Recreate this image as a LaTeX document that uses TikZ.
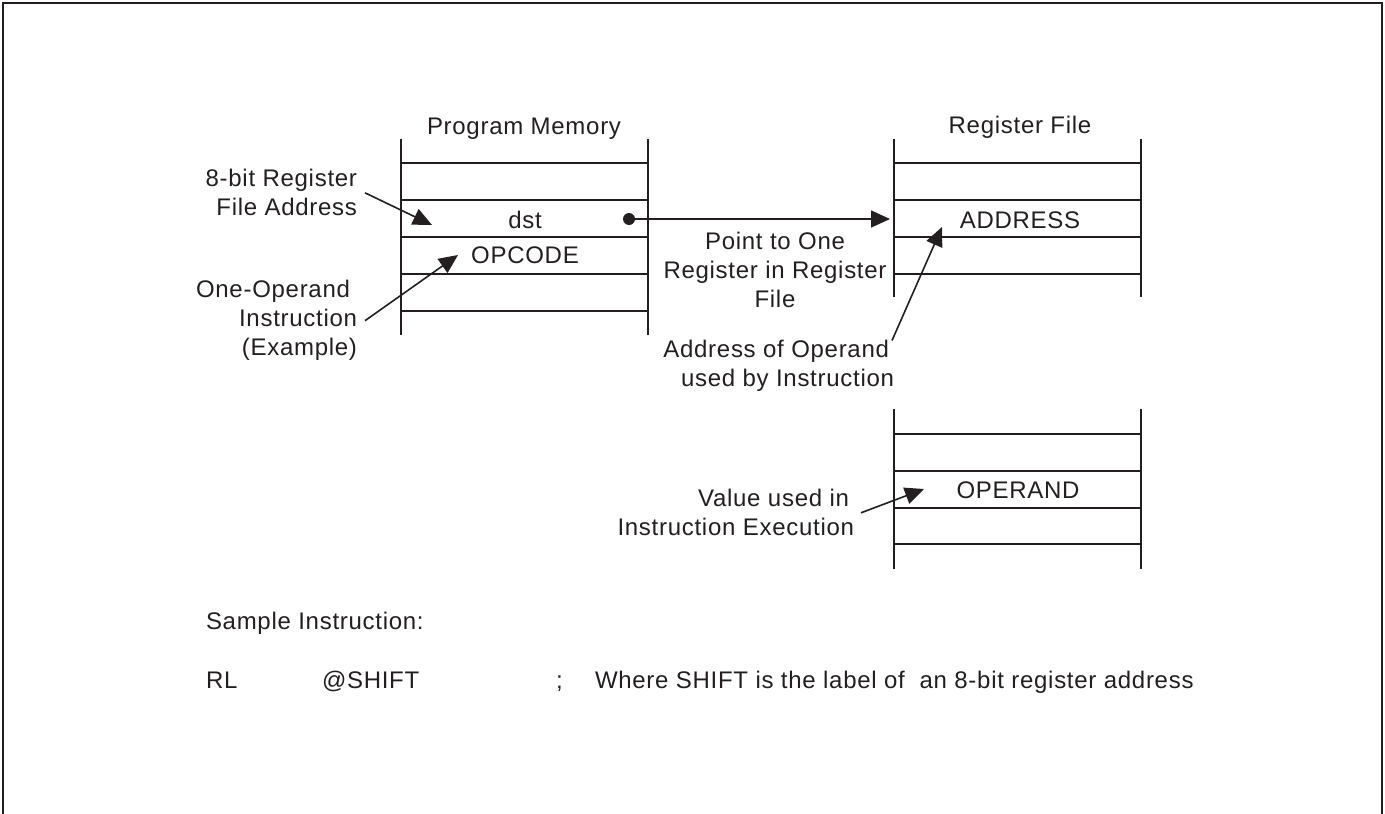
\documentclass[tikz,border=0pt]{standalone}
\usepackage{fontspec}
\setmainfont{Liberation Sans}[LetterSpace=3.0]
\usetikzlibrary{arrows.meta}
\definecolor{ink}{RGB}{35,31,32}
\begin{document}
\begin{tikzpicture}[x=1pt,y=-1pt,
  every node/.style={inner sep=0pt, outer sep=0pt, text=ink, font=\fontsize{24}{29}\selectfont},
  boxline/.style={draw=ink, line width=1.8pt},
  pointer/.style={draw=ink, line width=1.6pt, -{Triangle[length=19pt,width=17pt]}},
  frameline/.style={draw=ink, line width=2.5pt}]
\useasboundingbox (0,0) rectangle (1385,814);
% outer frame (open at the bottom)
\draw[frameline] (3,814) -- (3,3) -- (1382,3) -- (1382,814);
% Program Memory
\draw[boxline] (401,139) -- (401,335) (648,139) -- (648,335);
\foreach \y in {163,200,237,274,311} \draw[boxline] (401,\y) -- (648,\y);
% Register File
\draw[boxline] (894,139) -- (894,297) (1141,139) -- (1141,297);
\foreach \y in {163,200,237,274} \draw[boxline] (894,\y) -- (1141,\y);
% Register File (operand)
\draw[boxline] (894,409) -- (894,569) (1141,409) -- (1141,569);
\foreach \y in {434,471,508,544} \draw[boxline] (894,\y) -- (1141,\y);
% titles and cell texts
\node (pmtitle) [anchor=base] at (524,134) {Program Memory};
\node (rftitle) [anchor=base] at (1020,133) {Register File};
\node (dst) [anchor=base] at (525,228) {dst};
\node (opcode) [anchor=base] at (525,263) {OPCODE};
\node (address) [anchor=base] at (1020,228) {ADDRESS};
\node (operand) [anchor=base] at (1018,498) {OPERAND};
% labels
\node (lblreg) [anchor=north east, align=right] at (357,169.5) {8-bit Register\\File Address};
\node (lblop) [anchor=north east, align=right] at (357,280.5) {One-Operand\hbox to 7pt{}\\Instruction\\(Example)};
\node (lblpoint) [anchor=north, align=center] at (775,232.5) {Point to One\\Register in Register\\File};
\node (lbladdr) [anchor=north east, align=right] at (894,340.5) {Address of Operand\hbox to 5pt{}\\used by Instruction};
\node (lblval) [anchor=north east, align=right] at (854,489.5) {Value used in\hbox to 5pt{}\\Instruction Execution};
% sample instruction
\node (sample) [anchor=base west] at (206,629) {Sample Instruction:};
\node (rl) [anchor=base west] at (206,688) {RL};
\node (shift) [anchor=base west] at (322,688) {@SHIFT};
\node (semi) [anchor=base west] at (556,688) {;};
\node (comment) [anchor=base west] at (595,688) {Where SHIFT is the label of\ \ an 8-bit register address};
% connectors
\coordinate (dot) at (629,219);
\coordinate (dsttip) at (890,219);
\coordinate (a1t) at (432,225);
\coordinate (a2t) at (458,255);
\coordinate (a3t) at (942,227);
\coordinate (a4t) at (924,489);
\fill[ink] (dot) circle (6pt);
\draw[pointer] (dot) -- (dsttip);
\draw[pointer] ([xshift=8pt]lblreg.east) -- (a1t);
\draw[pointer] ([xshift=8pt]lblop.east) -- (a2t);
\draw[pointer] ([xshift=-2pt]lbladdr.north east) -- (a3t);
\draw[pointer] ([xshift=7pt]lblval.east) -- (a4t);
\end{tikzpicture}
\end{document}
